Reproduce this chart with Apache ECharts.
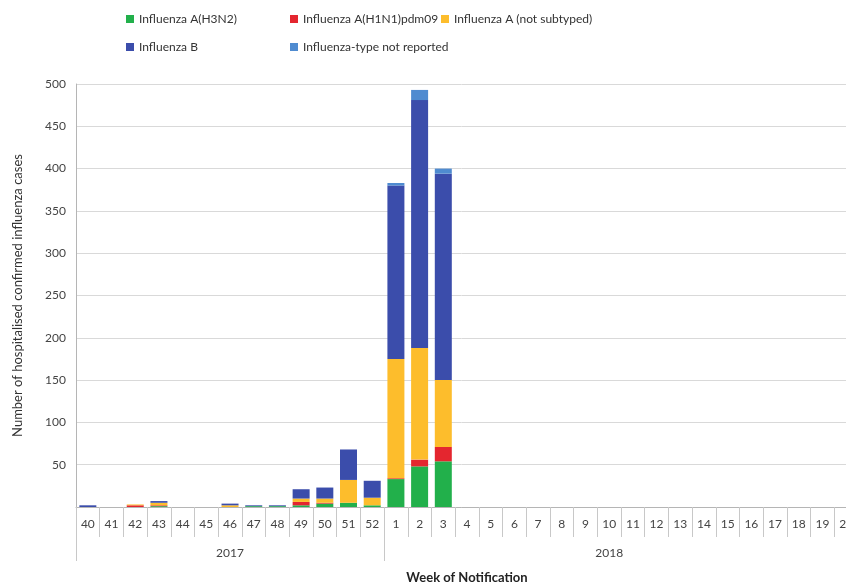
<!DOCTYPE html>
<html>
<head>
<meta charset="utf-8">
<script src="https://cdn.jsdelivr.net/npm/echarts@6/dist/echarts.min.js"></script>
<style>
  html, body { margin: 0; padding: 0; background: #fff; }
  #chart { width: 846px; height: 586px; }
</style>
</head>
<body>
<div id="chart"></div>
<script>
// weeks 40-52 of 2017, then 1-20 of 2018
const weeks = ['40','41','42','43','44','45','46','47','48','49','50','51','52',
  '1','2','3','4','5','6','7','8','9','10','11','12','13','14','15','16','17','18','19','20']
const yearLabels = ['2017', '2018']

const h3n2    = [0,0,0,1,0,0,0,1,1,2,4,5,2, 33,48,54, 0,0,0,0,0,0,0,0,0,0,0,0,0,0,0,0,0]
const h1n1    = [0,0,2,1,0,0,0,0,0,4,1,0,0, 1,8,17, 0,0,0,0,0,0,0,0,0,0,0,0,0,0,0,0,0]
const notSub  = [0,0,1,3,0,0,2,0,0,4,5,27,9, 141,132,79, 0,0,0,0,0,0,0,0,0,0,0,0,0,0,0,0,0]
const fluB    = [2,0,0,2,0,0,2,1,1,11,13,36,20, 205,293,244, 0,0,0,0,0,0,0,0,0,0,0,0,0,0,0,0,0]
const notRep  = [0,0,0,0,0,0,0,0,0,0,0,0,0, 3,12,6, 0,0,0,0,0,0,0,0,0,0,0,0,0,0,0,0,0]

const names = ['Influenza A(H3N2)', 'Influenza A(H1N1)pdm09', 'Influenza A (not subtyped)',
  'Influenza B', 'Influenza-type not reported']
const colors = ['#22b04b', '#e4262f', '#fdbd2c', '#3b4dab', '#4f8bd0']
const values = [h3n2, h1n1, notSub, fluB, notRep]

const font = 'Lato'
// one legend per item so each sits where the original has it
const legendPos = [[121, 8], [285, 8], [436, 8], [121, 36], [285, 36]]
const legends = names.map((n, i) => ({
  data: [n],
  left: legendPos[i][0],
  top: legendPos[i][1],
  icon: 'rect',
  itemWidth: 8,
  itemHeight: 8,
  itemGap: 4,
  textStyle: { fontFamily: font, fontSize: 12, color: '#333' }
}))

const chart = echarts.init(document.getElementById('chart'))
chart.setOption({
  animation: false,
  textStyle: { fontFamily: font },
  legend: legends,
  // the plot runs past the right edge, as in the original (week 20 is cut)
  grid: { left: 76, width: 782, top: 84, bottom: 79, containLabel: false, outerBoundsMode: 'none' },
  xAxis: [
    {
      type: 'category',
      data: weeks,
      position: 'bottom',
      axisLine: { lineStyle: { color: '#b5b5b5' } },
      axisTick: { show: true, length: 30, interval: 0, lineStyle: { color: '#c8c8c8' } },
      axisLabel: { interval: 0, margin: 11, fontSize: 12, color: '#444', fontFamily: font },
      name: 'Week of Notification',
      nameLocation: 'middle',
      nameGap: 64,
      nameTextStyle: { fontFamily: font, fontSize: 13, fontWeight: 'bold', color: '#222' }
    },
    {
      type: 'category',
      data: weeks,
      position: 'bottom',
      offset: 30,
      axisLine: { show: false },
      axisTick: {
        show: true, length: 24,
        interval: (idx) => idx === 0 || idx === 13,
        lineStyle: { color: '#c8c8c8' }
      },
      axisLabel: {
        interval: 0, margin: 10, fontSize: 12, color: '#444', fontFamily: font,
        formatter: (v, idx) => idx === 6 ? yearLabels[0] : (idx === 22 ? yearLabels[1] : '')
      }
    }
  ],
  yAxis: {
    type: 'value',
    min: 0,
    max: 500,
    interval: 50,
    name: 'Number of hospitalised confirmed influenza cases',
    nameLocation: 'middle',
    nameGap: 52,
    nameTextStyle: { fontFamily: font, fontSize: 13, color: '#333' },
    axisLine: { show: true, lineStyle: { color: '#b5b5b5' } },
    axisTick: { show: false },
    axisLabel: {
      fontSize: 12, color: '#444', margin: 10, fontFamily: font,
      formatter: (v) => v === 0 ? '' : v
    },
    splitLine: { lineStyle: { color: '#d9d9d9' } }
  },
  series: names.map((n, i) => ({
    name: n,
    type: 'bar',
    stack: 'total',
    xAxisIndex: 0,
    barWidth: 17,
    itemStyle: { color: colors[i] },
    data: values[i]
  }))
})
</script>
</body>
</html>
